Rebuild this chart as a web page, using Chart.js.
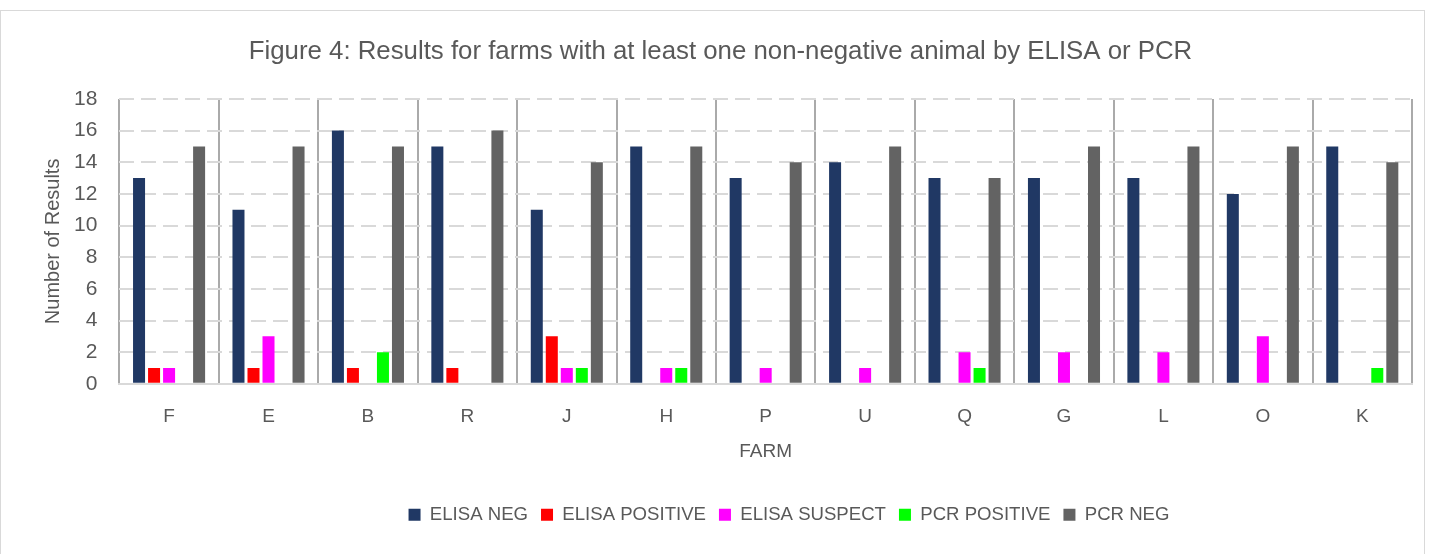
<!DOCTYPE html>
<html><head><meta charset="utf-8">
<script src="https://cdn.jsdelivr.net/npm/chart.js@4.4.0/dist/chart.umd.min.js"></script>
<style>
html,body{margin:0;padding:0;background:#fff;}
#wrap{position:absolute;left:0;top:10px;width:1423px;height:543px;border:1px solid #d9d9d9;}
canvas{display:block;}
</style></head>
<body>
<div id="wrap"><canvas id="c" width="1423" height="543"></canvas></div>
<script>
const farms = ["F","E","B","R","J","H","P","U","Q","G","L","O","K"];
const elisaNeg      = [13,11,16,15,11,15,13,14,13,13,13,12,15];
const elisaPositive = [1,1,1,1,3,0,0,0,0,0,0,0,0];
const elisaSuspect  = [1,3,0,0,1,1,1,1,2,2,2,3,0];
const pcrPositive   = [0,0,2,0,1,1,0,0,1,0,0,0,1];
const pcrNeg        = [15,15,15,16,14,15,14,15,13,15,15,15,14];
const yTicks = [0,2,4,6,8,10,12,14,16,18];

const FONT = "'Liberation Sans',Arial,sans-serif";
const TXT = '#595959';
Chart.defaults.font.family = FONT;
Chart.defaults.color = TXT;

const ds = (label, data, color) => ({label, data, backgroundColor: color, borderWidth: 0,
  categoryPercentage: 0.755, barPercentage: 0.8});

const legendShift = {
  id: 'legendShift',
  afterLayout(chart) {
    const lg = chart.legend;
    if (!lg) return;
    const shift = 788 - (lg.left + lg.right) / 2;
    lg.left += shift; lg.right += shift;
  }
};

new Chart(document.getElementById('c'), {
  type: 'bar',
  data: {
    labels: farms,
    datasets: [
      ds('ELISA NEG', elisaNeg, '#203864'),
      ds('ELISA POSITIVE', elisaPositive, '#ff0000'),
      ds('ELISA SUSPECT', elisaSuspect, '#ff00ff'),
      ds('PCR POSITIVE', pcrPositive, '#00ff00'),
      ds('PCR NEG', pcrNeg, '#636363')
    ]
  },
  plugins: [legendShift],
  options: {
    responsive: false,
    animation: false,
    layout: {padding: {left: 28, right: 12, top: 10, bottom: 20}},
    plugins: {
      title: {display: true, text: 'Figure 4: Results for farms with at least one non-negative animal by ELISA or PCR',
        font: {size: 25.8, weight: 'normal'}, color: TXT, padding: {top: 15, bottom: 32}},
      legend: {position: 'bottom', labels: {boxWidth: 12, boxHeight: 12, font: {size: 18.6}, color: TXT, padding: 13}},
      tooltip: {enabled: false}
    },
    scales: {
      x: {
        grid: {display: true, offset: true, color: '#aaaaaa', lineWidth: 2, drawTicks: false},
        border: {display: true, color: '#d9d9d9', width: 2},
        ticks: {font: {size: 19}, color: TXT, padding: 22},
        title: {display: true, text: 'FARM', font: {size: 19}, color: TXT, padding: {top: -10, bottom: 29}}
      },
      y: {
        min: 0, max: 18,
        afterBuildTicks: (axis) => { axis.ticks = yTicks.map(v => ({value: v})); },
        grid: {color: '#d9d9d9', lineWidth: 2, drawTicks: false},
        border: {display: false, dash: [15, 7]},
        ticks: {font: {size: 21}, color: TXT, padding: 22},
        title: {display: true, text: 'Number of Results', font: {size: 20}, color: TXT, padding: {top: 12, bottom: -13}}
      }
    }
  }
});
</script>
</body></html>
